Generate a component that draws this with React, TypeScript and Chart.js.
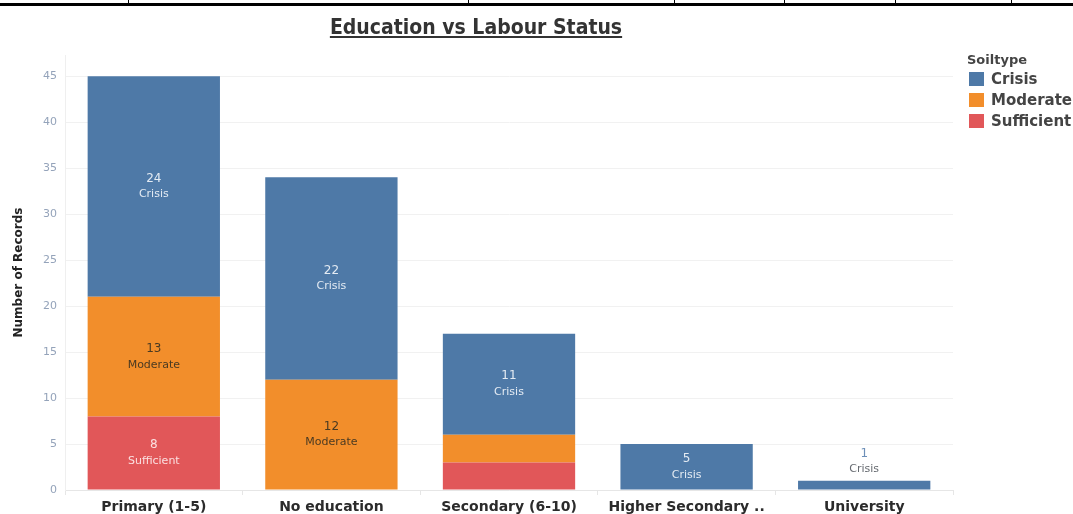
import React, { useEffect, useRef } from 'react';
import { Chart, registerables } from 'chart.js';
Chart.register(...registerables);

const categories = ['Primary (1-5)', 'No education', 'Secondary (6-10)', 'Higher Secondary ..', 'University'];
const seriesNames = ['Sufficient', 'Moderate', 'Crisis'];
const sufficientValues = [8, null, 3, null, null];
const moderateValues = [13, 12, 3, null, null];
const crisisValues = [24, 22, 11, 5, 1];
const yTickValues = [0, 5, 10, 15, 20, 25, 30, 35, 40, 45];
const legendTitle = 'Soiltype';
const legendOrder = ['Crisis', 'Moderate', 'Sufficient'];

const seriesColors: Record<string, string> = {
  Crisis: '#4e79a7',
  Moderate: '#f28e2b',
  Sufficient: '#e15759',
};
const labelColors: Record<string, string> = {
  Crisis: '#e4ebf3',
  Moderate: '#4a3a22',
  Sufficient: '#fbe0e1',
};

const FONT = "'DejaVu Sans', sans-serif";

const segLabels = {
  id: 'segLabels',
  afterDatasetsDraw(chart: any) {
    const ctx = chart.ctx;
    const n = chart.data.labels.length;
    const totals: number[] = [];
    for (let i = 0; i < n; i++) {
      let t = 0;
      chart.data.datasets.forEach((ds: any) => { t += ds.data[i] || 0; });
      totals.push(t);
    }
    ctx.save();
    ctx.textAlign = 'center';
    ctx.textBaseline = 'middle';
    chart.data.datasets.forEach((ds: any, di: number) => {
      const meta = chart.getDatasetMeta(di);
      meta.data.forEach((bar: any, i: number) => {
        const v = ds.data[i];
        if (v == null) return;
        const name = ds.label;
        const props = bar.getProps(['x', 'y', 'base'], true);
        if (v >= 5) {
          const cy = (props.y + props.base) / 2;
          ctx.fillStyle = labelColors[name];
          ctx.font = `12px ${FONT}`;
          ctx.fillText(String(v), props.x, cy - 8);
          ctx.font = `11px ${FONT}`;
          ctx.fillText(name, props.x, cy + 8);
        } else if (totals[i] === v) {
          ctx.fillStyle = '#6d8fb8';
          ctx.font = `12px ${FONT}`;
          ctx.fillText(String(v), props.x, props.y - 27);
          ctx.fillStyle = '#666a70';
          ctx.font = `11px ${FONT}`;
          ctx.fillText(name, props.x, props.y - 12);
        }
      });
    });
    ctx.restore();
  },
};

export default function App() {
  const ref = useRef<HTMLCanvasElement | null>(null);
  useEffect(() => {
    if (!ref.current) return;
    const seriesData: Record<string, (number | null)[]> = {
      Sufficient: sufficientValues,
      Moderate: moderateValues,
      Crisis: crisisValues,
    };
    const chart = new Chart(ref.current, {
      type: 'bar',
      data: {
        labels: categories,
        datasets: seriesNames.map((s) => ({
          label: s,
          data: seriesData[s],
          backgroundColor: seriesColors[s],
          borderWidth: 0,
          barPercentage: 0.745,
          categoryPercentage: 1,
        })),
      },
      options: {
        responsive: false,
        animation: false,
        layout: { padding: { top: 55, right: 120, left: 0, bottom: 0 } },
        plugins: {
          legend: { display: false },
          title: { display: false },
          tooltip: { enabled: false },
        },
        scales: {
          x: {
            stacked: true,
            grid: { offset: true, drawOnChartArea: false, color: '#e6e6e6', tickLength: 5 },
            border: { color: '#e6e6e6' },
            ticks: { color: '#2b2b2b', font: { family: FONT, size: 14, weight: 'bold' }, padding: 4, maxRotation: 0, autoSkip: false },
            afterFit: (s: any) => { s.height = 24; },
          },
          y: {
            stacked: true,
            min: 0,
            max: 47.3,
            grid: { color: '#f1f1f1', drawTicks: false },
            border: { color: '#efefef' },
            ticks: { color: '#94a3ba', font: { family: FONT, size: 11 }, padding: 8 },
            afterBuildTicks: (axis: any) => { axis.ticks = yTickValues.map((v) => ({ value: v })); },
            title: { display: true, text: 'Number of Records', color: '#222', font: { family: FONT, size: 12, weight: 'bold' }, padding: { top: 12, bottom: 0 } },
            afterFit: (s: any) => { s.width = 65; },
          },
        },
      } as any,
      plugins: [segLabels],
    });
    return () => chart.destroy();
  }, []);

  const borderXs = [128, 468, 674, 784, 895, 1011];
  return (
    <div style={{ position: 'absolute', left: 0, top: 0, width: 1073, height: 514, background: '#fff', overflow: 'hidden' }}>
      <div style={{ position: 'absolute', left: 0, top: 3, width: 1073, height: 3, background: '#000' }} />
      {borderXs.map((x) => (
        <div key={x} style={{ position: 'absolute', left: x, top: 0, width: 1, height: 4, background: '#000' }} />
      ))}
      <canvas ref={ref} width={1073} height={514} style={{ position: 'absolute', left: 0, top: 0, width: 1073, height: 514 }} />
      <div style={{ position: 'absolute', left: 0, top: 14, width: 952, textAlign: 'center', fontFamily: "'DejaVu Sans Condensed', 'DejaVu Sans', sans-serif", fontWeight: 'bold', fontSize: 21, color: '#333', textDecoration: 'underline', lineHeight: '26px' }}>
        Education vs Labour Status
      </div>
      <div style={{ position: 'absolute', left: 967, top: 52, fontFamily: FONT, color: '#444' }}>
        <div style={{ fontSize: 13, fontWeight: 'bold', lineHeight: '16px' }}>{legendTitle}</div>
        {legendOrder.map((s) => (
          <div key={s} style={{ display: 'flex', alignItems: 'center', height: 21, fontSize: 15, fontWeight: 'bold' }}>
            <span style={{ display: 'inline-block', width: 15, height: 14, background: seriesColors[s], marginLeft: 2, marginRight: 7 }} />
            <span>{s}</span>
          </div>
        ))}
      </div>
    </div>
  );
}
